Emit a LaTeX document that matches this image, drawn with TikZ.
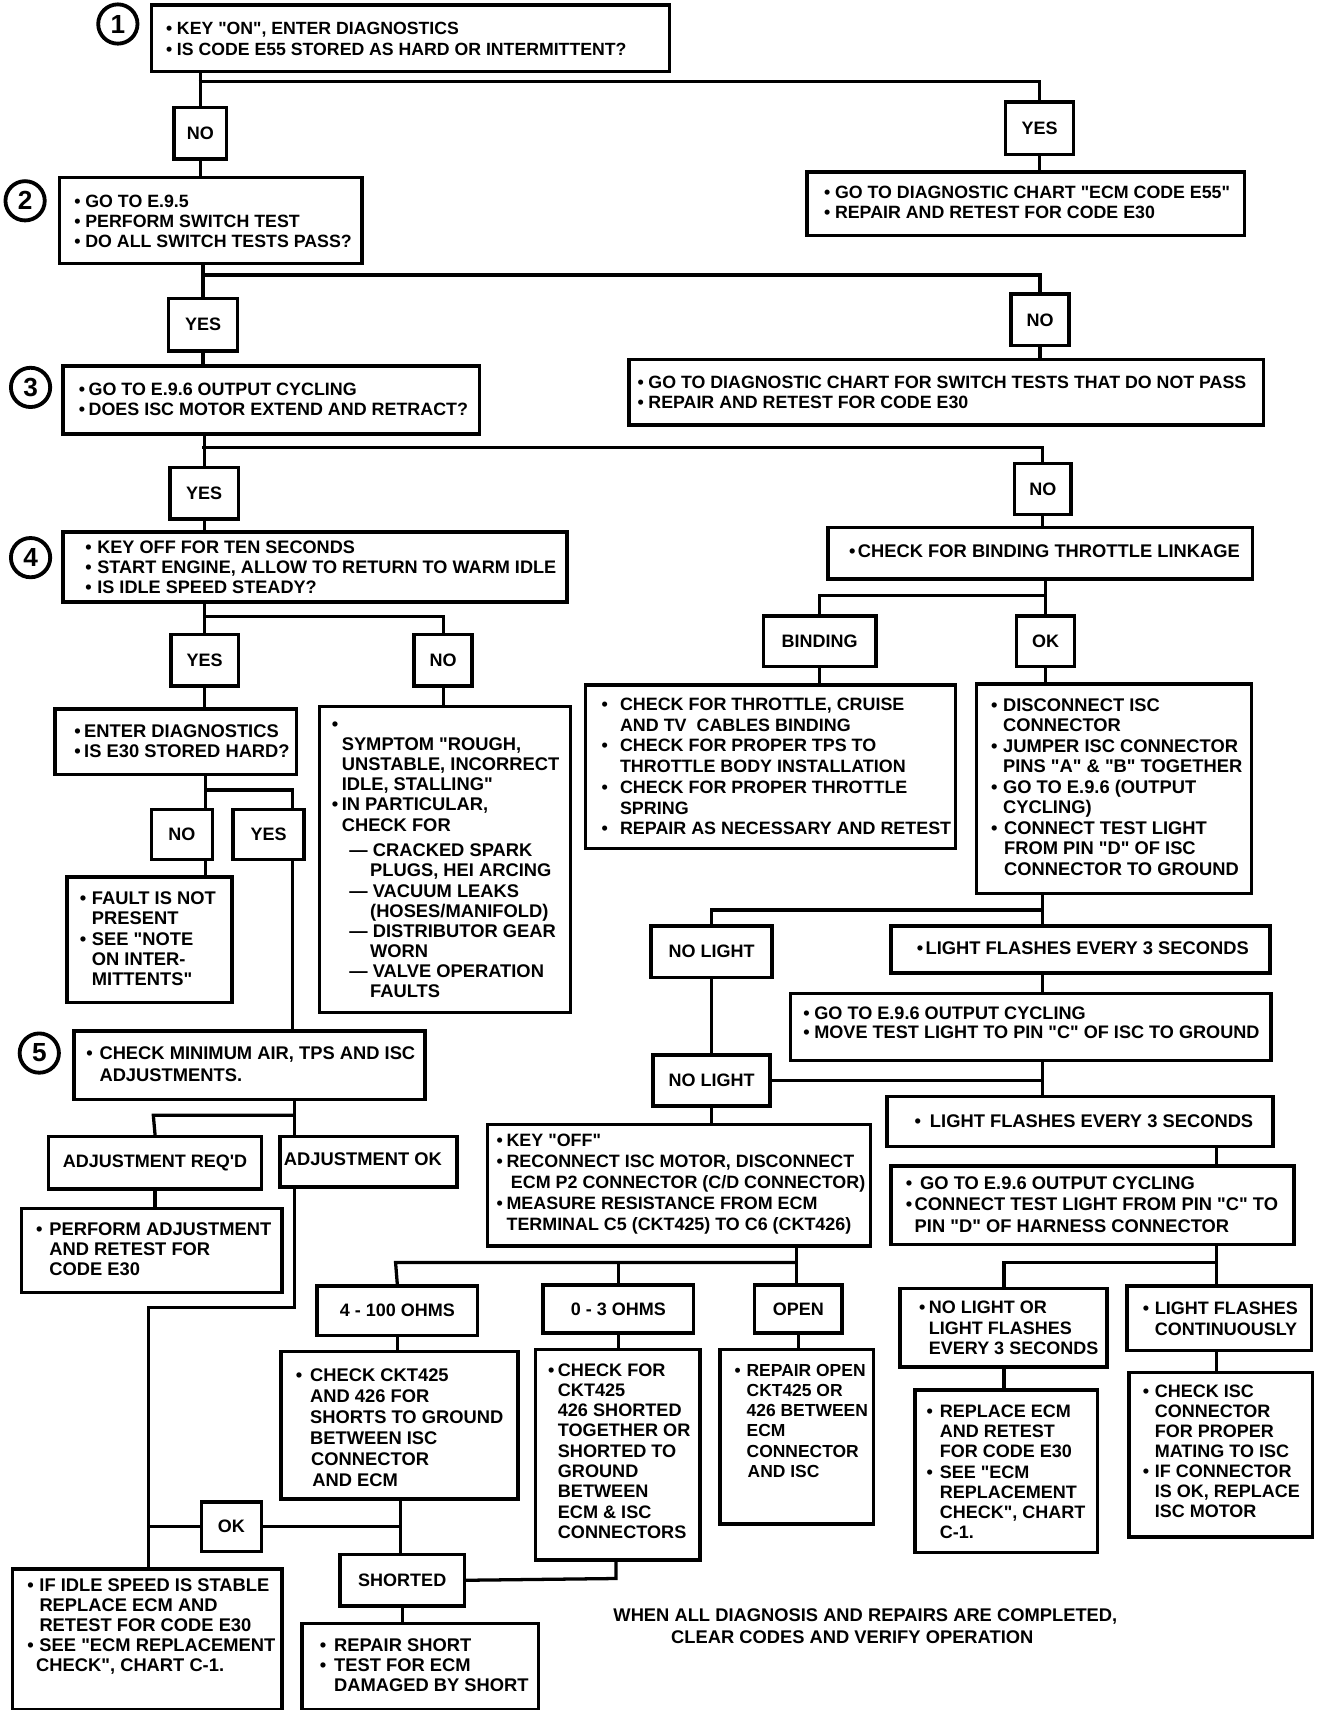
\documentclass[tikz,border=0pt]{standalone}
\usepackage{fontspec}
\setmainfont{Liberation Sans}[Ligatures=TeXOff]
\newcommand\fz[2]{\fontsize{#1}{#2}\selectfont\bfseries}
\newcommand\bu[1][10]{\makebox[#1pt][l]{•}}
\newcommand\hi[1][10]{\hspace*{#1pt}}
\tikzset{
  box/.style={draw, line width=3.2pt, inner sep=0pt, anchor=north west, font=\fz{16.5}{18}},
  txt/.style={anchor=base west, inner sep=0pt, font=\fz{16.8}{18.5}},
  ln/.style={line width=3pt},
  circ/.style={circle, draw, line width=3.5pt, minimum size=36pt, inner sep=0pt, font=\fz{24}{24}},
  notetxt/.style={inner sep=0pt, font=\fz{16.8}{18.5}}
}
\newcommand\bx[7][]{\node[box,minimum width={#5-#3},minimum height={#6-#4},#1] (#2) at (#3,#4) {#7};}
\newcommand\tx[5][]{\node[txt,#1] (#2) at (#3,#4+6) {\begin{tabular}[t]{@{}l@{}}#5\end{tabular}};}
\begin{document}
\begin{tikzpicture}[x=1pt,y=-1pt]
\fill[white] (0,0) rectangle (1217,1567);
\useasboundingbox (0,0) rectangle (1217,1567);

% circled step numbers
\node[circ] (c1) at (108,22) {1};
\node[circ] (c2) at (23,184) {2};
\node[circ] (c3) at (28,355) {3};
\node[circ] (c4) at (28,511) {4};
\node[circ] (c5) at (36,965) {5};

% step 1
\bx{b1}{137}{3}{612}{64}{}
\tx[font=\fz{16.2}{18.5}]{t1}{152}{26}{\bu KEY "ON", ENTER DIAGNOSTICS\\\bu IS CODE E55 STORED AS HARD OR INTERMITTENT?}
\bx{no1}{158}{97}{206}{144}{NO}
\bx{yes1}{920}{92}{982}{140}{YES}
\bx{be55}{738}{156}{1139}{214}{}
\tx[font=\fz{16.3}{18.5}]{te55}{755}{176}{\bu GO TO DIAGNOSTIC CHART "ECM CODE E55"\\\bu REPAIR AND RETEST FOR CODE E30}

% step 2
\bx{b2}{53}{161}{330}{240}{}
\tx[font=\fz{16.3}{18.5}]{t2}{68}{184}{\bu GO TO E.9.5\\\bu PERFORM SWITCH TEST\\\bu DO ALL SWITCH TESTS PASS?}
\bx{yes2}{153}{272}{216}{320}{YES}
\bx{no2}{925}{268}{978}{315}{NO}
\bx{bsw}{575}{328}{1156}{388}{}
\tx[font=\fz{16.3}{18.5}]{tsw}{584}{350}{\bu GO TO DIAGNOSTIC CHART FOR SWITCH TESTS THAT DO NOT PASS\\\bu REPAIR AND RETEST FOR CODE E30}

% step 3
\bx{b3}{56}{334}{438}{396}{}
\tx[font=\fz{16.4}{19}]{t3}{72}{356}{\bu[9]GO TO E.9.6 OUTPUT CYCLING\\\bu[9]DOES ISC MOTOR EXTEND AND RETRACT?}
\bx{yes3}{154}{427}{217}{474}{YES}
\bx{no3}{928}{423}{980}{470}{NO}

% step 4
\bx{b4}{56}{486}{518}{550}{}
\tx[font=\fz{16.6}{18.5}]{t4}{78}{501}{\bu[11]KEY OFF FOR TEN SECONDS\\\bu[11]START ENGINE, ALLOW TO RETURN TO WARM IDLE\\\bu[11]IS IDLE SPEED STEADY?}
\bx{blink}{757}{482}{1146}{529}{}
\tx{tlink}{778}{505}{\bu[8]CHECK FOR BINDING THROTTLE LINKAGE}
\bx{yes4}{155}{580}{217}{627}{YES}
\bx{no4}{378}{580}{431}{627}{NO}
\bx{bind}{698}{563}{801}{609}{BINDING}
\bx{okb}{930}{563}{983}{609}{OK}

\bx{bent}{49}{648}{270}{708}{}
\tx{tent}{68}{670}{\bu[9]ENTER DIAGNOSTICS\\\bu[9]IS E30 STORED HARD?}
\bx{bsym}{291}{646}{521}{926}{}
\tx{tsym}{304}{663}{•\\\hi[9]SYMPTOM "ROUGH,\\\hi[9]UNSTABLE, INCORRECT\\\hi[9]IDLE, STALLING"\\\bu[9]IN PARTICULAR,\\\hi[9]CHECK FOR\\[5pt]\hi[16]— CRACKED SPARK\\\hi[35]PLUGS, HEI ARCING\\\hi[16]— VACUUM LEAKS\\\hi[35](HOSES/MANIFOLD)\\\hi[16]— DISTRIBUTOR GEAR\\\hi[35]WORN\\\hi[16]— VALVE OPERATION\\\hi[35]FAULTS}
\bx{bbind}{535}{626}{874}{776}{}
\tx[font=\fz{16.4}{19}]{tbind}{551}{645}{\bu[17]CHECK FOR THROTTLE, CRUISE\\\hi[17]AND TV\ \ CABLES BINDING\\\bu[17]CHECK FOR PROPER TPS TO\\\hi[17]THROTTLE BODY INSTALLATION\\\bu[17]CHECK FOR PROPER THROTTLE\\\hi[17]SPRING\\\bu[17]REPAIR AS NECESSARY AND RETEST}
\bx{bok}{893}{625}{1145}{817}{}
\tx[font=\fz{16.8}{18.75}]{tok}{908}{646}{\bu[11]DISCONNECT ISC\\\hi[11]CONNECTOR\\\bu[11]JUMPER ISC CONNECTOR\\\hi[11]PINS "A" \& "B" TOGETHER\\\bu[11]GO TO E.9.6 (OUTPUT\\\hi[11]CYCLING)\\\bu[12]CONNECT TEST LIGHT\\\hi[12]FROM PIN "D" OF ISC\\\hi[12]CONNECTOR TO GROUND}

\bx{no5}{137}{740}{193}{786}{NO}
\bx{yes5}{212}{740}{277}{786}{YES}
\bx{bfault}{60}{802}{211}{917}{}
\tx{tfault}{73}{823}{\bu[11]FAULT IS NOT\\\hi[11]PRESENT\\\bu[11]SEE "NOTE\\\hi[11]ON INTER-\\\hi[11]MITTENTS"}

% step 5
\bx{b5}{66}{943}{388}{1006}{}
\tx[font=\fz{16.8}{20}]{t5}{79}{965}{\bu[12]CHECK MINIMUM AIR, TPS AND ISC\\\hi[12]ADJUSTMENTS.}
\bx{adjr}{43}{1040}{238}{1088}{ADJUSTMENT REQ'D}
\bx{adjok}{255}{1040}{417}{1086}{}
\tx{tadjok}{260}{1062}{ADJUSTMENT OK}
\bx{bperf}{18}{1106}{257}{1183}{}
\tx{tperf}{33}{1126}{\bu[12]PERFORM ADJUSTMENT\\\hi[12]AND RETEST FOR\\\hi[12]CODE E30}

% light tests
\bx{nl1}{595}{847}{706}{894}{NO LIGHT}
\bx{lf1}{815}{847}{1162}{890}{}
\tx{tlf1}{840}{869}{\bu[8]LIGHT FLASHES EVERY 3 SECONDS}
\bx{bmove}{723}{909}{1163}{970}{}
\tx[font=\fz{16.6}{18}]{tmove}{736}{928}{\bu GO TO E.9.6 OUTPUT CYCLING\\\bu MOVE TEST LIGHT TO PIN "C" OF ISC TO GROUND}
\bx{nl2}{597}{965}{704}{1012}{NO LIGHT}
\bx{lf2}{811}{1003}{1165}{1049}{}
\tx{tlf2}{838}{1027}{\bu[14]LIGHT FLASHES EVERY 3 SECONDS}
\bx{bconn}{815}{1067}{1184}{1139}{}
\tx[font=\fz{16.8}{19.5}]{tconn}{830}{1084}{\bu[13]GO TO E.9.6 OUTPUT CYCLING\\\bu[8]CONNECT TEST LIGHT FROM PIN "C" TO\\\hi[8]PIN "D" OF HARNESS CONNECTOR}
\bx{bkey}{445}{1029}{796}{1140}{}
\tx[font=\fz{16.4}{19.25}]{tkey}{455}{1045}{\bu[9]KEY "OFF"\\\bu[9]RECONNECT ISC MOTOR, DISCONNECT\\\hi[13]ECM P2 CONNECTOR (C/D CONNECTOR)\\\bu[9]MEASURE RESISTANCE FROM ECM\\\hi[9]TERMINAL C5 (CKT425) TO C6 (CKT426)}

% resistance results
\bx{o4}{289}{1177}{436}{1222}{4 - 100 OHMS}
\bx{o03}{496}{1176}{634}{1220}{0 - 3 OHMS}
\bx{oopen}{690}{1176}{770}{1220}{OPEN}
\bx{b4100}{256}{1237}{473}{1372}{}
\tx[font=\fz{16.8}{19.2}]{t4100}{271}{1260}{\bu[13]CHECK CKT425\\\hi[13]AND 426 FOR\\\hi[13]SHORTS TO GROUND\\\hi[13]BETWEEN ISC\\\hi[14]CONNECTOR\\\hi[15]AND ECM}
\bx{b03}{489}{1235}{640}{1428}{}
\tx[font=\fz{16.6}{18.6}]{t03}{502}{1255}{\bu[9]CHECK FOR\\\hi[9]CKT425\\\hi[9]426 SHORTED\\\hi[9]TOGETHER OR\\\hi[9]SHORTED TO\\\hi[9]GROUND\\\hi[9]BETWEEN\\\hi[9]ECM \& ISC\\\hi[9]CONNECTORS}
\bx{bopen}{658}{1235}{799}{1395}{}
\tx[font=\fz{16}{18.6}]{topen}{673}{1255}{\bu[11]REPAIR OPEN\\\hi[11]CKT425 OR\\\hi[11]426 BETWEEN\\\hi[11]ECM\\\hi[11]CONNECTOR\\\hi[12]AND ISC}

\bx{nlor}{823}{1179}{1013}{1251}{}
\tx[font=\fz{16.5}{18.5}]{tnlor}{842}{1198}{\bu[9]NO LIGHT OR\\\hi[9]LIGHT FLASHES\\\hi[9]EVERY 3 SECONDS}
\bx{lfc}{1031}{1177}{1200}{1236}{}
\tx[font=\fz{16.5}{18.5}]{tlfc}{1047}{1199}{\bu[11]LIGHT FLASHES\\\hi[11]CONTINUOUSLY}
\bx{brep}{837}{1272}{1004}{1421}{}
\tx[font=\fz{16.5}{18.5}]{trep}{849}{1293}{\bu[12]REPLACE ECM\\\hi[12]AND RETEST\\\hi[12]FOR CODE E30\\\bu[12]SEE "ECM\\\hi[12]REPLACEMENT\\\hi[12]CHECK", CHART\\\hi[12]C-1.}
\bx{bisc}{1033}{1256}{1201}{1407}{}
\tx[font=\fz{16.5}{18.33}]{tisc}{1047}{1275}{\bu[11]CHECK ISC\\\hi[11]CONNECTOR\\\hi[11]FOR PROPER\\\hi[11]MATING TO ISC\\\bu[11]IF CONNECTOR\\\hi[11]IS OK, REPLACE\\\hi[11]ISC MOTOR}

\bx{okc}{183}{1375}{238}{1420}{OK}
\bx{short}{310}{1423}{424}{1470}{SHORTED}
\bx{bidle}{10}{1436}{257}{1565}{}
\tx{tidle}{25}{1452}{\bu[11]IF IDLE SPEED IS STABLE\\\hi[11]REPLACE ECM AND\\\hi[11]RETEST FOR CODE E30\\\bu[11]SEE "ECM REPLACEMENT\\\hi[8]CHECK", CHART C-1.}
\bx{brs}{275}{1486}{492}{1565}{}
\tx{trs}{293}{1507}{\bu[13]REPAIR SHORT\\\bu[13]TEST FOR ECM\\\hi[13]DAMAGED BY SHORT}

\node[notetxt] (n1) at (793,1481) {WHEN ALL DIAGNOSIS AND REPAIRS ARE COMPLETED,};
\node[notetxt] (n2) at (781,1500) {CLEAR CODES AND VERIFY OPERATION};

% ---------- connectors ----------
\coordinate (j1) at (182,75);
\draw[ln] (no1.north |- b1.south) -- (no1.north);
\draw[ln] (j1) -| (yes1.north);
\draw[ln] (no1.south) -- (no1.south |- b2.north);
\draw[ln] (yes1.south) -- (yes1.south |- be55.north);

\coordinate (j2) at (184.5,252);
\draw[ln] (yes2.north |- b2.south) -- (yes2.north);
\draw[ln] (j2) -| (no2.north);
\draw[ln] (yes2.south) -- (yes2.south |- b3.north);
\draw[ln] (no2.south) -- (no2.south |- bsw.north);

\coordinate (j3) at (185.5,410);
\draw[ln] (yes3.north |- b3.south) -- (yes3.north);
\draw[ln] (j3) -| (no3.north);
\draw[ln] (yes3.south) -- (yes3.south |- b4.north);
\draw[ln] (no3.south) -- (no3.south |- blink.north);

\coordinate (j4) at (186,565);
\draw[ln] (yes4.north |- b4.south) -- (yes4.north);
\draw[ln] (j4) -| (no4.north);
\draw[ln] (yes4.south) -- (yes4.south |- bent.north);
\draw[ln] (no4.south) -- (no4.south |- bsym.north);

\coordinate (j5) at (956.5,546);
\draw[ln] (okb.north |- blink.south) -- (okb.north);
\draw[ln] (j5) -| (bind.north);
\draw[ln] (okb.south) -- (okb.south |- bok.north);
\draw[ln] (bind.south) -- (bind.south |- bbind.north);

\coordinate (j6) at (188,724);
\coordinate (j6b) at (268,724);
\draw[ln] (bent.south -| j6) -- (j6 |- no5.north);
\draw[ln] (j6) -- (j6b) -- (j6b |- yes5.north);
\draw[ln] (j6 |- no5.south) -- (j6 |- bfault.north);
\draw[ln] (j6b |- yes5.south) -- (j6b |- b5.north);

\coordinate (j7) at (955,834);
\draw[ln] (bok.south -| j7) -- (j7 |- lf1.north);
\draw[ln] (j7) -| (nl1.north);
\draw[ln] (nl1.south) -- (nl2.north);
\draw[ln] (lf1.south -| j7) -- (j7 |- bmove.north);
\draw[ln] (bmove.south -| j7) -- (j7 |- lf2.north);
\draw[ln] (nl2.east) -- (nl2.east -| j7);
\draw[ln] (nl2.south) -- (nl2.south |- bkey.north);

\coordinate (j8) at (1115,1157);
\coordinate (j8b) at (920,1157);
\draw[ln] (lf2.south -| j8) -- (j8 |- bconn.north);
\draw[ln] (bconn.south -| j8) -- (j8 |- lfc.north);
\draw[ln] (j8) -- (j8b) -- (j8b |- nlor.north);
\draw[ln] (nlor.south -| j8b) -- (j8b |- brep.north);
\draw[ln] (lfc.south -| j8) -- (j8 |- bisc.north);

\coordinate (j9) at (730,1157);
\coordinate (j9a) at (362.5,1157);
\draw[ln] (bkey.south -| j9) -- (j9 |- oopen.north);
\draw[ln] (j9) -- (j9a) -- (o4.north);
\draw[ln] (o03.north |- j9) -- (o03.north);
\draw[ln] (o4.south) -- (o4.south |- b4100.north);
\draw[ln] (o03.south) -- (o03.south |- b03.north);
\draw[ln] (oopen.south) -- (oopen.south |- bopen.north);

\coordinate (j10) at (367,1397);
\draw[ln] (b4100.south -| j10) -- (j10 |- short.north);
\draw[ln] (okc.east) -- (okc.east -| j10);
\draw[ln] (short.south) -- (short.south |- brs.north);
\coordinate (j13) at (564.5,1446.5);
\draw[ln] (short.east) -- (j13) -- (j13 |- b03.south);

\coordinate (j12) at (270,1022);
\coordinate (j12b) at (140.5,1022);
\draw[ln] (b5.south -| j12) -- (j12 |- adjok.north);
\draw[ln] (j12) -- (j12b) -- (adjr.north);
\draw[ln] (adjr.south) -- (adjr.south |- bperf.north);

\coordinate (j11) at (270,1198);
\coordinate (j11b) at (136,1198);
\draw[ln] (adjok.south -| j11) -- (j11) -- (j11b) -- (j11b |- bidle.north);
\draw[ln] (okc.west) -- (okc.west -| j11b);
\end{tikzpicture}
\end{document}
